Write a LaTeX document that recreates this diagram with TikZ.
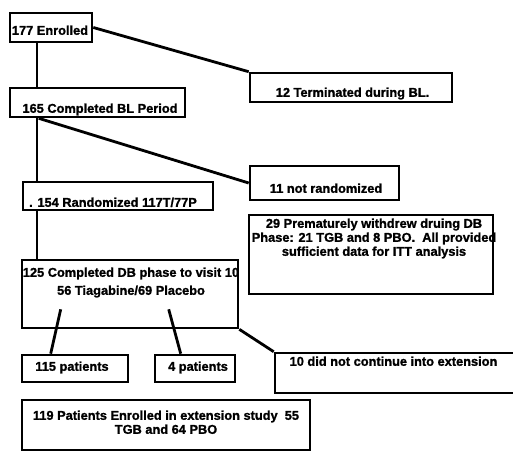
\documentclass[tikz,border=0pt]{standalone}
\usepackage{fontspec}
\setmainfont{Liberation Sans}[BoldFeatures={FakeBold=1.2}]
\usetikzlibrary{calc}
\newcommand{\bxt}[3]{\makebox[0pt]{\hspace*{#1}\raisebox{#2}[0pt][0pt]{\begin{tabular}{@{}c@{}}#3\end{tabular}}\hspace*{-#1}}}
\tikzset{
  box/.style={draw, rectangle, line width=2.6pt, inner sep=0pt,
    font=\fontsize{12.8}{14}\selectfont\bfseries},
  conn/.style={line width=2.8pt}
}
\begin{document}
\begin{tikzpicture}[x=1pt,y=-1pt]
\useasboundingbox[fill=white] (0,0) rectangle (513,451);
% boxes
\node[box, minimum width=82pt, minimum height=29pt] (b1) at (51,27.5) {\bxt{-1pt}{-7.5pt}{177 Enrolled}};
\node[box, minimum width=175pt, minimum height=29pt] (b2) at (97.5,102.5) {\bxt{2.5pt}{-10.5pt}{165 Completed BL Period}};
\node[box, minimum width=202pt, minimum height=29pt] (b3) at (351,87.5) {\bxt{1.5pt}{-9.5pt}{12 Terminated during BL.}};
\node[box, minimum width=190pt, minimum height=28pt] (b4) at (118,196) {\bxt{-5pt}{-11pt}{. 154 Randomized 117T/77P}};
\node[box, minimum width=149pt, minimum height=34pt] (b5) at (324.5,183) {\bxt{1.5pt}{-10pt}{11 not randomized}};
\node[box, minimum width=244pt, minimum height=79pt] (b6) at (371,254.5) {\bxt{3pt}{12.5pt}{29 Prematurely withdrew druing DB\\ Phase: 21 TGB and 8 PBO.\ \ All provided\\ sufficient data for ITT analysis}};
\node[box, minimum width=216pt, minimum height=68pt] (b7) at (130,294) {\bxt{1pt}{8pt}{125 Completed DB phase to visit 10\\[4pt] 56 Tiagabine/69 Placebo}};
\node[box, minimum width=106pt, minimum height=27pt] (b8) at (75,368.5) {\bxt{-3pt}{-2.5pt}{115 patients}};
\node[box, minimum width=80pt, minimum height=27pt] (b9) at (195,368.5) {\bxt{3pt}{-2.5pt}{4 patients}};
\node[box, minimum width=240pt, minimum height=40pt] (b10) at (395,373) {\bxt{-1.5pt}{7pt}{10 did not continue into extension}};
\node[box, minimum width=288pt, minimum height=50pt] (b11) at (166,425) {\bxt{0pt}{-2pt}{119 Patients Enrolled in extension study\ \ 55\\ TGB and 64 PBO}};
% connector helpers
\coordinate (v1) at (37,0);
\coordinate (c1) at ($(b7.south west)+(40,-20)$);
\coordinate (c2) at ($(b7.south west)+(148,-20)$);
% connectors
\draw[conn] (b1.south -| v1) -- (b2.north -| v1);
\draw[conn] (b1.east) -- (b3.north west);
\draw[conn] (b2.south -| v1) -- (b4.north -| v1);
\draw[conn] (b4.south -| v1) -- (b7.north -| v1);
\draw[conn] ($(b2.south west)+(30,0)$) -- (b5.west);
\draw[conn] (c1) -- ($(b8.north west)+(30,0)$);
\draw[conn] (c2) -- ($(b9.north west)+(27,0)$);
\draw[conn] (b7.south east) -- (b10.north west);
\end{tikzpicture}
\end{document}
